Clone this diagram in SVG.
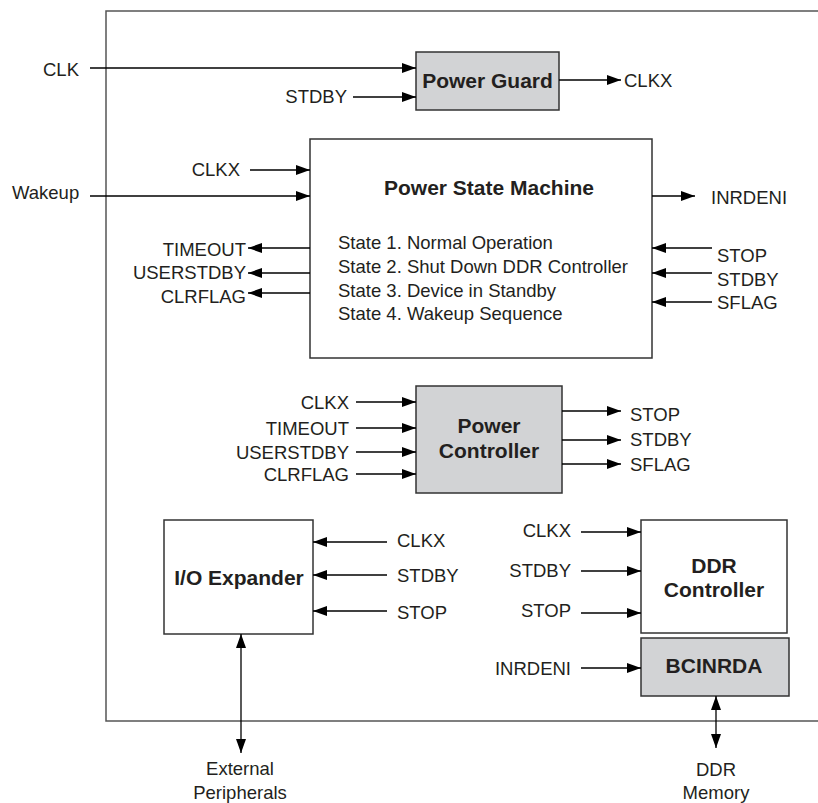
<svg xmlns="http://www.w3.org/2000/svg" width="818" height="803" viewBox="0 0 818 803">
<defs>
<marker id="ah" markerUnits="userSpaceOnUse" markerWidth="15" markerHeight="11" refX="14" refY="5" orient="auto-start-reverse"><path d="M0,0 L14,5 L0,10 z" fill="#000"/></marker>
<style>
text{font-family:"Liberation Sans",Arial,Helvetica,sans-serif;font-size:18.5px;fill:#231f20}
.b{font-weight:bold;font-size:21px}
.m{text-anchor:middle}
.e{text-anchor:end}
.box{fill:#fff;stroke:#333;stroke-width:1.5}
.g{fill:#d2d3d5}
.w{stroke:#000;stroke-width:1.3;fill:none;marker-end:url(#ah)}
.d{marker-start:url(#ah)}
.frame{stroke:#555;stroke-width:1.5;fill:none}
</style>
</defs>
<rect width="818" height="803" fill="#fff"/>
<path class="frame" d="M818,11 H106 V721 H818"/>

<g id="power-guard">
<rect class="box g" x="416" y="52" width="143" height="58"/>
<text class="b m" x="487.5" y="88">Power Guard</text>
</g>

<g id="power-state-machine">
<rect class="box" x="310" y="139" width="342" height="219"/>
<text class="b m" x="489" y="195">Power State Machine</text>
<text x="338" y="249">State 1. Normal Operation</text>
<text x="338" y="273">State 2. Shut Down DDR Controller</text>
<text x="338" y="297">State 3. Device in Standby</text>
<text x="338" y="320">State 4. Wakeup Sequence</text>
</g>

<g id="power-controller">
<rect class="box g" x="416" y="386" width="146" height="107"/>
<text class="b m" x="489" y="433">Power</text>
<text class="b m" x="489" y="458">Controller</text>
</g>

<g id="io-expander">
<rect class="box" x="164" y="520" width="149" height="114"/>
<text class="b m" x="239" y="585">I/O Expander</text>
</g>

<g id="ddr-controller">
<rect class="box" x="641" y="520" width="146" height="113"/>
<text class="b m" x="714" y="573">DDR</text>
<text class="b m" x="714" y="597">Controller</text>
</g>

<g id="bcinrda">
<rect class="box g" x="641" y="638" width="148" height="58"/>
<text class="b m" x="714" y="673">BCINRDA</text>
</g>

<g id="labels">
<text x="43" y="76">CLK</text>
<text class="e" x="347" y="103">STDBY</text>
<text x="624" y="87">CLKX</text>
<text class="e" x="240" y="176">CLKX</text>
<text x="12" y="199">Wakeup</text>
<text class="e" x="246" y="256">TIMEOUT</text>
<text class="e" x="246" y="279">USERSTDBY</text>
<text class="e" x="246" y="303">CLRFLAG</text>
<text x="711" y="204">INRDENI</text>
<text x="717" y="262">STOP</text>
<text x="717" y="286">STDBY</text>
<text x="717" y="309">SFLAG</text>
<text class="e" x="349" y="409">CLKX</text>
<text class="e" x="349" y="435">TIMEOUT</text>
<text class="e" x="349" y="459">USERSTDBY</text>
<text class="e" x="349" y="481">CLRFLAG</text>
<text x="630" y="421">STOP</text>
<text x="630" y="446">STDBY</text>
<text x="630" y="471">SFLAG</text>
<text x="397" y="547">CLKX</text>
<text x="397" y="582">STDBY</text>
<text x="397" y="619">STOP</text>
<text class="e" x="571" y="537">CLKX</text>
<text class="e" x="571" y="577">STDBY</text>
<text class="e" x="571" y="617">STOP</text>
<text class="e" x="571" y="675">INRDENI</text>
<text class="m" x="240" y="775">External</text>
<text class="m" x="240" y="799">Peripherals</text>
<text class="m" x="716" y="776">DDR</text>
<text class="m" x="716" y="799">Memory</text>
</g>

<g id="connectors">
<line class="w" x1="90" y1="68" x2="416" y2="68"/>
<line class="w" x1="353" y1="97" x2="416" y2="97"/>
<line class="w" x1="559" y1="80" x2="621" y2="80"/>
<line class="w" x1="250" y1="170" x2="310" y2="170"/>
<line class="w" x1="90" y1="196" x2="310" y2="196"/>
<line class="w" x1="310" y1="248" x2="248" y2="248"/>
<line class="w" x1="310" y1="273" x2="248" y2="273"/>
<line class="w" x1="310" y1="293" x2="248" y2="293"/>
<line class="w" x1="652" y1="196" x2="695" y2="196"/>
<line class="w" x1="712" y1="248" x2="652" y2="248"/>
<line class="w" x1="712" y1="273" x2="652" y2="273"/>
<line class="w" x1="712" y1="302" x2="652" y2="302"/>
<line class="w" x1="356" y1="402" x2="416" y2="402"/>
<line class="w" x1="356" y1="428" x2="416" y2="428"/>
<line class="w" x1="356" y1="452" x2="416" y2="452"/>
<line class="w" x1="356" y1="474" x2="416" y2="474"/>
<line class="w" x1="562" y1="411" x2="621" y2="411"/>
<line class="w" x1="562" y1="440" x2="621" y2="440"/>
<line class="w" x1="562" y1="464" x2="621" y2="464"/>
<line class="w" x1="387" y1="542" x2="313" y2="542"/>
<line class="w" x1="387" y1="575" x2="313" y2="575"/>
<line class="w" x1="387" y1="611" x2="313" y2="611"/>
<line class="w" x1="581" y1="532" x2="641" y2="532"/>
<line class="w" x1="581" y1="571" x2="641" y2="571"/>
<line class="w" x1="581" y1="613" x2="641" y2="613"/>
<line class="w" x1="581" y1="668" x2="641" y2="668"/>
<line class="w d" x1="241" y1="634" x2="241" y2="753"/>
<line class="w d" x1="716" y1="696" x2="716" y2="748"/>
</g>
</svg>
